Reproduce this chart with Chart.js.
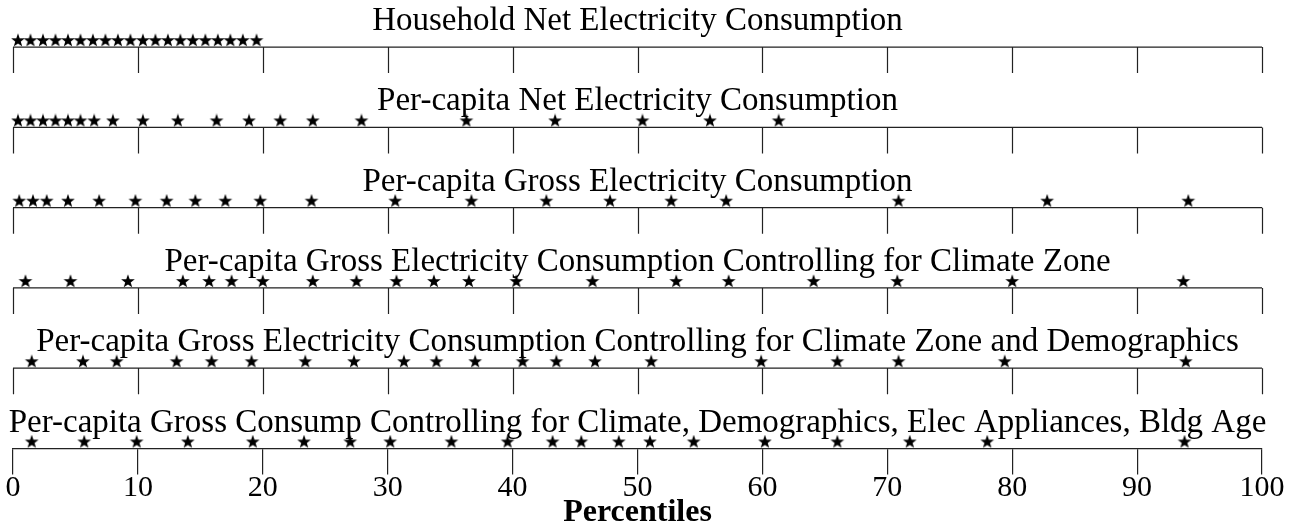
<!DOCTYPE html>
<html>
<head>
<meta charset="utf-8">
<script src="https://cdn.jsdelivr.net/npm/chart.js@4/dist/chart.umd.min.js"></script>
<style>
  html, body { margin: 0; padding: 0; background: #fff; }
  #wrap { width: 1296px; height: 525px; }
</style>
</head>
<body>
<div id="wrap"><canvas id="chart"></canvas></div>
<script>
// percentile positions of the stars, one array per row (top to bottom)
const household = [0.4, 1.4, 2.4, 3.4, 4.4, 5.4, 6.4, 7.4, 8.4, 9.4, 10.4, 11.4, 12.4, 13.4, 14.4, 15.4, 16.4, 17.4, 18.4, 19.5];
const perCapitaNet = [0.4, 1.4, 2.4, 3.4, 4.4, 5.4, 6.5, 8.0, 10.4, 13.2, 16.3, 18.9, 21.4, 24.0, 27.9, 36.3, 43.4, 50.4, 55.8, 61.3];
const perCapitaGross = [0.5, 1.6, 2.7, 4.4, 6.9, 9.8, 12.3, 14.6, 17.0, 19.8, 23.9, 30.6, 36.7, 42.7, 47.8, 52.7, 57.1, 70.9, 82.8, 94.1];
const climateZone = [1.0, 4.6, 9.2, 13.6, 15.7, 17.5, 20.0, 24.0, 27.5, 30.7, 33.7, 36.5, 40.3, 46.4, 53.1, 57.3, 64.1, 70.8, 80.0, 93.7];
const climateDemo = [1.5, 5.6, 8.3, 13.1, 15.9, 19.1, 23.4, 27.3, 31.3, 33.9, 37.0, 40.8, 43.5, 46.6, 51.1, 59.9, 66.0, 70.9, 79.4, 93.9];
const fullControls = [1.5, 5.7, 9.9, 14.0, 19.2, 23.3, 27.0, 30.2, 35.1, 39.6, 43.2, 45.5, 48.5, 51.0, 54.5, 60.2, 66.0, 71.8, 78.0, 93.8];

const rowTitles = [
  "Household Net Electricity Consumption",
  "Per-capita Net Electricity Consumption",
  "Per-capita Gross Electricity Consumption",
  "Per-capita Gross Electricity Consumption Controlling for Climate Zone",
  "Per-capita Gross Electricity Consumption Controlling for Climate Zone and Demographics",
  "Per-capita Gross Consump Controlling for Climate, Demographics, Elec Appliances, Bldg Age"
];
const rowSeries = [household, perCapitaNet, perCapitaGross, climateZone, climateDemo, fullControls];
const rowLevels = [5, 4, 3, 2, 1, 0];
const tickValues = [0, 10, 20, 30, 40, 50, 60, 70, 80, 90, 100];

const serif = "'Liberation Serif', 'DejaVu Serif', serif";
const lineColor = "#222";

// filled five-point star, drawn in the upper half so it sits on the line
function makeStar() {
  const c = document.createElement("canvas");
  c.width = 18; c.height = 28;
  const g = c.getContext("2d");
  const cx = 9, cy = 7.5, R = 7.2, r = 2.9;
  g.beginPath();
  for (let i = 0; i < 10; i++) {
    const rad = i % 2 === 0 ? R : r;
    const a = -Math.PI / 2 + i * Math.PI / 5;
    const px = cx + rad * Math.cos(a), py = cy + rad * Math.sin(a);
    if (i === 0) g.moveTo(px, py); else g.lineTo(px, py);
  }
  g.closePath();
  g.fillStyle = "#000";
  g.fill();
  return c;
}
const starImg = makeStar();

const datasets = rowSeries.map((vals, i) => ({
  label: rowTitles[i],
  data: vals.map(v => ({ x: v, y: rowLevels[i] })),
  pointStyle: starImg,
  pointRadius: 8,
  showLine: false,
  clip: false
}));

// number lines, tick marks and row titles for every row
const rowsPlugin = {
  id: "rows",
  beforeDatasetsDraw(chart) {
    const { ctx, scales: { x, y } } = chart;
    const tickLen = chart.options.scales.x.grid.tickLength;
    ctx.save();
    ctx.strokeStyle = lineColor;
    ctx.lineWidth = 1.2;
    rowLevels.forEach((lvl, i) => {
      const py = y.getPixelForValue(lvl);
      if (lvl !== 0) {
        ctx.beginPath();
        ctx.moveTo(x.getPixelForValue(0), py);
        ctx.lineTo(x.getPixelForValue(100), py);
        tickValues.forEach(t => {
          const px = Math.round(x.getPixelForValue(t)) + 0.5;
          ctx.moveTo(px, py);
          ctx.lineTo(px, py + tickLen);
        });
        ctx.stroke();
      }
      ctx.fillStyle = "#000";
      ctx.font = "33px " + serif;
      ctx.textAlign = "center";
      ctx.textBaseline = "alphabetic";
      ctx.fillText(rowTitles[i], x.getPixelForValue(50), py - 17);
    });
    ctx.restore();
  }
};

new Chart(document.getElementById("chart"), {
  type: "scatter",
  data: { datasets },
  options: {
    responsive: true,
    maintainAspectRatio: false,
    animation: false,
    layout: { padding: { top: 15, left: 13, right: 34, bottom: 0 } },
    plugins: { legend: { display: false }, tooltip: { enabled: false } },
    scales: {
      x: {
        type: "linear",
        min: 0,
        max: 100,
        afterBuildTicks(axis) { axis.ticks = tickValues.map(v => ({ value: v })); },
        ticks: {
          color: "#000",
          padding: 2,
          maxRotation: 0,
          autoSkip: false,
          font: { family: serif, size: 30, lineHeight: 0.75 }
        },
        grid: { drawOnChartArea: false, drawTicks: true, tickLength: 26, color: lineColor, lineWidth: 1.2 },
        border: { display: true, color: lineColor, width: 1.2 },
        title: {
          display: true,
          text: "Percentiles",
          color: "#000",
          padding: 0,
          font: { family: serif, size: 32, weight: "bold", lineHeight: 0.75 }
        }
      },
      y: { type: "linear", min: 0, max: 5.4, display: false }
    }
  },
  plugins: [rowsPlugin]
});
</script>
</body>
</html>
